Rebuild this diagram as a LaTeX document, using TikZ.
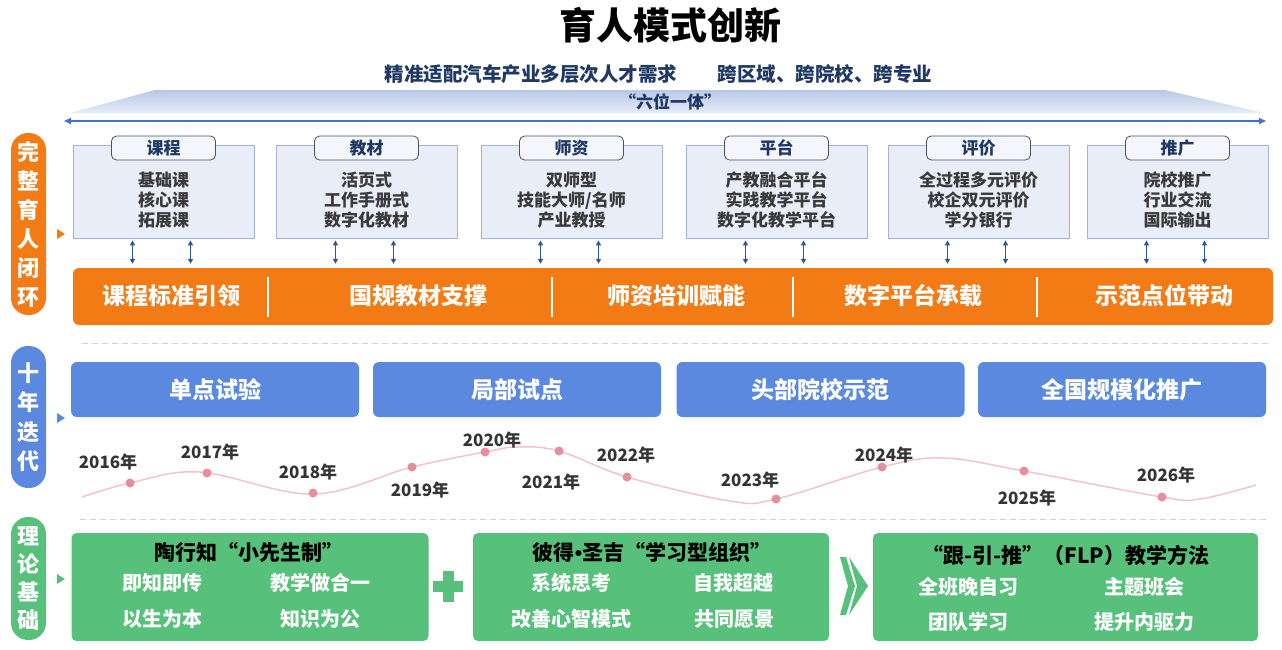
\documentclass[tikz,border=0pt]{standalone}
\usepackage{fontspec}
\setmainfont{Noto Sans CJK SC}
\newfontfamily\latinfont{Liberation Sans}
\usepackage{tikz}
\usetikzlibrary{positioning,arrows.meta,calc}

\definecolor{navy}{HTML}{1F3864}
\definecolor{bandtop}{HTML}{B7C8E8}
\definecolor{bandbot}{HTML}{E6ECF8}
\definecolor{linkblue}{HTML}{4472C4}
\definecolor{boxfill}{HTML}{E9EDF7}
\definecolor{boxline}{HTML}{9FB4DF}
\definecolor{tabline}{HTML}{44546A}
\definecolor{tabfill}{HTML}{F4F6FB}
\definecolor{darkarrow}{HTML}{2F5597}
\definecolor{barorange}{HTML}{F27B16}
\definecolor{stepblue}{HTML}{5A89DF}
\definecolor{leafgreen}{HTML}{57C17B}
\definecolor{pinkline}{HTML}{F2C3CE}
\definecolor{pinkdot}{HTML}{E68E9D}
\definecolor{textgray}{HTML}{3A3A3A}

\newcommand{\fsz}[2]{\fontsize{#1}{#2}\selectfont\bfseries}

\tikzset{
  titletext/.style={font=\fsz{37}{40}, text=black, inner sep=0pt},
  subtext/.style={font=\fsz{19.5}{22}, text=navy, inner sep=0pt},
  bandtext/.style={font=\fsz{17}{20}, text=navy, inner sep=0pt},
  spanarrow/.style={linkblue, line width=1.5pt, {Triangle[length=7pt,width=6pt]}-{Triangle[length=7pt,width=6pt]}},
  sidepill/.style={rounded corners=17pt, minimum width=35pt, inner sep=0pt, align=center, text=white},
  sixbox/.style={draw=boxline, fill=boxfill, line width=0.8pt, minimum width=181pt, minimum height=93pt, inner sep=0pt},
  boxtext/.style={font=\fsz{17}{20}, text=textgray, align=center, inner sep=0pt},
  tabbox/.style={draw=tabline, fill=tabfill, line width=0.8pt, rounded corners=5pt, minimum width=104pt, minimum height=24pt, inner sep=0pt, font=\fsz{17}{20}, text=navy},
  updown/.style={darkarrow, line width=1.3pt, {Triangle[length=5pt,width=5pt]}-{Triangle[length=5pt,width=5pt]}},
  barlabel/.style={font=\fsz{23}{26}, text=white, inner sep=0pt},
  stepbox/.style={fill=stepblue, rounded corners=6pt, minimum width=288pt, minimum height=55pt, inner sep=0pt, font=\fsz{23}{26}, text=white},
  pinkdash/.style={pinkline, line width=1pt, dash pattern=on 6pt off 4pt},
  yeardot/.style={circle, fill=pinkdot, minimum size=9pt, inner sep=0pt},
  yearlabel/.style={font=\fsz{17}{20}, text=textgray!90!black, inner sep=0pt},
  leafbox/.style={fill=leafgreen, rounded corners=5pt, minimum height=108pt, inner sep=0pt},
  leaftitle/.style={font=\fsz{21}{24}, text=black, inner sep=0pt},
  leafitem/.style={font=\fsz{20}{23}, text=white, inner sep=0pt},
}

\begin{document}
\begin{tikzpicture}[x=1pt,y=-1pt]
\useasboundingbox (0,0) rectangle (1282,649);

% title and goal
\node[titletext] (title) at (670,25) {育人模式创新};
\node[subtext] (sub1) at (531,74) {精准适配汽车产业多层次人才需求};
\node[subtext] (sub2) at (825,74) {跨区域、跨院校、跨专业};

\shade[top color=bandtop, bottom color=bandbot] (70,113) -- (155,90) -- (1165,90) -- (1264,113) -- cycle;
\node[bandtext] (six) at (670,102) {“六位一体”};
\coordinate (lend) at (64,121);
\coordinate (rend) at (1266,121);
\draw[spanarrow] (lend) -- (rend);

% left labels
\node[sidepill, fill=barorange, minimum height=182pt, font=\fsz{22}{29}] (p1) at (28.5,224) {完\\整\\育\\人\\闭\\环};
\node[sidepill, fill=stepblue, minimum height=142pt, font=\fsz{22}{29.5}] (p2) at (28.5,417) {十\\年\\迭\\代};
\node[sidepill, fill=leafgreen, minimum height=123pt, font=\fsz{22}{28}] (p3) at (28.5,578.5) {理\\论\\基\\础};
\fill[barorange] (57,229) -- (65,234) -- (57,239) -- cycle;
\fill[stepblue] (57,413) -- (65,418) -- (57,423) -- cycle;
\fill[leafgreen] (57,574) -- (65,579) -- (57,584) -- cycle;

% six parts
\foreach \i/\cx/\tab/\body in {
    1/163.5/课程/{基础课\\核心课\\拓展课},
    2/366.5/教材/{活页式\\工作手册式\\数字化教材},
    3/571.5/师资/{双师型\\技能大师/名师\\产业教授},
    4/776.5/平台/{产教融合平台\\实践教学平台\\数字化教学平台},
    5/978.5/评价/{全过程多元评价\\校企双元评价\\学分银行},
    6/1177.5/推广/{院校推广\\行业交流\\国际输出}}{
  \node[sixbox] (b\i) at (\cx,191.5) {};
  \node[boxtext] (t\i) at (\cx,200) {\body};
  \node[tabbox] (h\i) at (\cx,148) {\tab};
}

\node[fill=barorange, rounded corners=6pt, minimum width=1200pt, minimum height=57pt, inner sep=0pt] (bar) at (673,296.5) {};
\foreach \i in {1,...,6}
  \foreach \dx in {-31,27}
    \draw[updown] ($(b\i.south)+(\dx,2)$) -- ($(b\i.south |- bar.north)+(\dx,-4)$);

\foreach \x in {268,552,793,1037}
  \draw[white, line width=1.2pt] (\x,277) -- (\x,317);
\node[barlabel] (k1) at (171,296) {课程标准引领};
\node[barlabel] (k2) at (418,296) {国规教材支撑};
\node[barlabel] (k3) at (676,296) {师资培训赋能};
\node[barlabel] (k4) at (913,296) {数字平台承载};
\node[barlabel] (k5) at (1164,296) {示范点位带动};

\draw[pinkdash] (82,343) -- (1270,343);

% ten years
\node[stepbox] (s1) at (215,389.5) {单点试验};
\node[stepbox] (s2) at (517,389.5) {局部试点};
\node[stepbox] (s3) at (820.5,389.5) {头部院校示范};
\node[stepbox] (s4) at (1122,389.5) {全国规模化推广};

\draw[pinkline, line width=1.5pt] plot[smooth, tension=0.6] coordinates {(82,497) (130,483) (200,472) (313,494) (412,467) (485,452) (517,447) (559,451) (627,477) (730,501) (776,499) (882,467) (944,458) (1024,471) (1162,497) (1200,499) (1256,485)};

\foreach \yr/\dx/\dy/\lx/\ly in {2016/130/483/108/462, 2017/207/473/210/452,
    2018/313/493/308/472, 2019/412/467/420/490, 2020/485/452/492/440,
    2021/559/451/551/482, 2022/627/477/626/455, 2023/776/499/750/480,
    2024/882/467/884/455, 2025/1024/471/1027/498, 2026/1162/497/1166/475}{
  \node[yeardot] (d\yr) at (\dx,\dy) {};
  \node[yearlabel] (y\yr) at (\lx,\ly) {\yr 年};
}

\draw[pinkdash] (80,519) -- (1270,519);

% theory
\node[leafbox, minimum width=357pt] (g1) at (250,587) {};
\node[leaftitle] (g1t) at (249,552) {陶行知“小先生制”};
\node[leafitem] (g1a) at (162,583) {即知即传};
\node[leafitem] (g1b) at (320,583) {教学做合一};
\node[leafitem] (g1c) at (162,619) {以生为本};
\node[leafitem] (g1d) at (320,619) {知识为公};

\fill[leafgreen] (433,581) rectangle (463,592);
\fill[leafgreen] (442.5,571) rectangle (453.5,602);

\node[leafbox, minimum width=356pt] (g2) at (651,587) {};
\node[leaftitle] (g2t) at (652,552) {彼得{\latinfont\bfseries •}圣吉“学习型组织”};
\node[leafitem] (g2a) at (571,583) {系统思考};
\node[leafitem] (g2b) at (733,583) {自我超越};
\node[leafitem] (g2c) at (571,619) {改善心智模式};
\node[leafitem] (g2d) at (734,619) {共同愿景};

\fill[leafgreen] (840,557) -- (846,557) -- (855,586) -- (846,615) -- (840,615) -- (848,586) -- cycle;
\fill[leafgreen] (849,557) -- (868,586) -- (849,615) -- (857,586) -- cycle;

\node[leafbox, minimum width=385pt] (g3) at (1065.5,587) {};
\node[leaftitle] (g3t) at (1066,555) {“跟-引-推”（FLP）教学方法};
\node[leafitem] (g3a) at (968,587) {全班晚自习};
\node[leafitem] (g3b) at (1144,587) {主题班会};
\node[leafitem] (g3c) at (968,622) {团队学习};
\node[leafitem] (g3d) at (1144,622) {提升内驱力};
\end{tikzpicture}
\end{document}
